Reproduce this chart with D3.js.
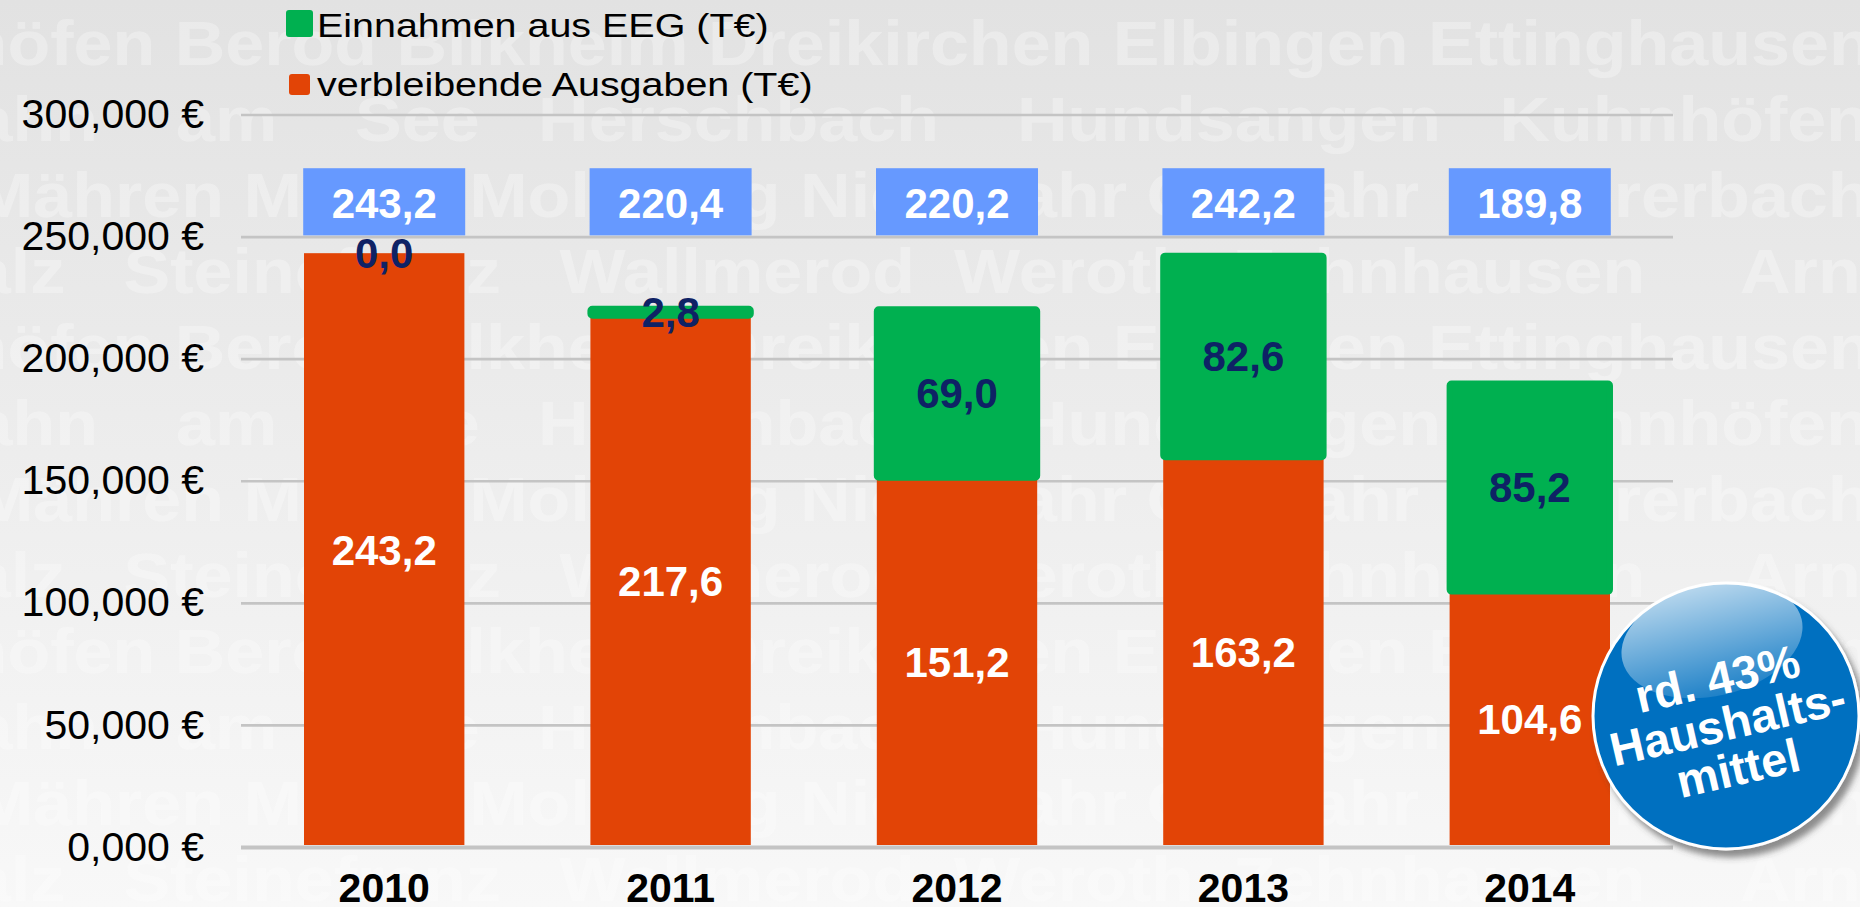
<!DOCTYPE html>
<html>
<head>
<meta charset="utf-8">
<script src="https://cdn.jsdelivr.net/npm/d3@7"></script>
<style>
  body { margin: 0; background: #fff; }
  svg { display: block; font-family: "Liberation Sans", Arial, sans-serif; }
</style>
</head>
<body>
<div id="chart"></div>
<script>
// values in T€
const years = ["2010", "2011", "2012", "2013", "2014"];
const gesamt = [243.2, 220.4, 220.2, 242.2, 189.8];          // blue boxes on top
const einnahmenEEG = [0.0, 2.8, 69.0, 82.6, 85.2];           // green part
const ausgabenLabel = [243.2, 217.6, 151.2, 163.2, 104.6];   // numbers printed in the red part
const yTicks = [0, 50, 100, 150, 200, 250, 300];
const legendLabels = ["Einnahmen aus EEG (T€)", "verbleibende Ausgaben (T€)"];
const badgeLines = ["rd. 43%", "Haushalts-", "mittel"];

// faint village names in the background
const watermarkRows = [
  "Arnshöfen Berod Bilkheim Dreikirchen Elbingen Ettinghausen",
  "Hahn    am    See   Herschbach    Hundsangen   Kuhnhöfen",
  "Mähren Meudt Molsberg Niederahr Oberahr   Obererbach",
  "Salz   Steinefrenz   Wallmerod  Weroth  Zehnhausen     Arn-"
];
const watermarkShift = [-195, -77, -25, -75];

const width = 1860, height = 907;
const x0 = 241, x1 = 1673;

const de = d3.formatLocale({decimal: ",", thousands: ".", grouping: [3], currency: ["", " €"]});
const f1 = de.format(".1f");
const f3 = de.format(".3f");

const colGreen = "#00b050", colRed = "#e24406", colBox = "#6699ff", colNavy = "#0e2265";

const svg = d3.select("#chart").append("svg")
  .attr("width", width)
  .attr("height", height);

const defs = svg.append("defs");
const bg = defs.append("linearGradient").attr("id", "bg").attr("x1", 0).attr("y1", 0).attr("x2", 0).attr("y2", 1);
bg.append("stop").attr("offset", "0%").attr("stop-color", "#e2e2e2");
bg.append("stop").attr("offset", "100%").attr("stop-color", "#f8f8f8");

const gloss = defs.append("linearGradient").attr("id", "gloss").attr("x1", 0).attr("y1", 0).attr("x2", 0).attr("y2", 1);
gloss.append("stop").attr("offset", "0%").attr("stop-color", "#fff").attr("stop-opacity", 0.72);
gloss.append("stop").attr("offset", "100%").attr("stop-color", "#fff").attr("stop-opacity", 0.12);

const shadow = defs.append("filter").attr("id", "shadow").attr("x", "-20%").attr("y", "-20%").attr("width", "150%").attr("height", "150%");
shadow.append("feDropShadow").attr("dx", 5).attr("dy", 7).attr("stdDeviation", 3)
  .attr("flood-color", "#444").attr("flood-opacity", 0.6);

svg.append("rect").attr("width", width).attr("height", height).attr("fill", "url(#bg)");

// watermark
const wm = svg.append("g")
  .attr("transform", "scale(1.13,1)")
  .attr("fill", "#fff")
  .attr("opacity", 0.3)
  .attr("font-weight", "bold")
  .attr("font-size", 62);
d3.range(12).forEach(i => {
  wm.append("text")
    .attr("xml:space", "preserve")
    .style("white-space", "pre")
    .attr("x", watermarkShift[i % 4] / 1.13)
    .attr("y", 65 + 76 * i)
    .text(watermarkRows[i % 4]);
});

const x = d3.scaleBand().domain(years).range([x0, x1]).paddingInner(0.44).paddingOuter(0.22);
const y = d3.scaleLinear().domain([0, 300]).range([847, 114.5]);

// y axis with grid
const yAxis = svg.append("g")
  .attr("transform", `translate(${x0},0)`)
  .call(d3.axisLeft(y).tickValues(yTicks).tickSize(-(x1 - x0)).tickPadding(37)
    .tickFormat(d => f3(d) + " €"));
yAxis.select(".domain").remove();
yAxis.attr("font-family", null).attr("font-size", 41);
yAxis.selectAll(".tick line").attr("stroke", "#c4c4c4").attr("stroke-width", d => d === 0 ? 4 : 2.7);
yAxis.selectAll(".tick text").attr("fill", "#000");

// x axis
const xAxis = svg.append("g")
  .attr("transform", `translate(0,${y(0)})`)
  .call(d3.axisBottom(x).tickSize(0).tickPadding(26));
xAxis.select(".domain").remove();
xAxis.attr("font-family", null).attr("font-size", 41).attr("font-weight", "bold");
xAxis.selectAll("text").attr("fill", "#000");

const rows = years.map((yr, i) => ({
  year: yr,
  total: gesamt[i],
  green: einnahmenEEG[i],
  red: gesamt[i] - einnahmenEEG[i],
  redLabel: ausgabenLabel[i]
}));

const bw = x.bandwidth();

// red bars
svg.append("g").selectAll("rect")
  .data(rows).enter().append("rect")
  .attr("x", d => x(d.year))
  .attr("width", bw)
  .attr("y", d => y(d.red))
  .attr("height", d => y(0) - 2 - y(d.red))
  .attr("fill", colRed);

// green bars (outlined in the same green, so they look a bit bigger)
svg.append("g").selectAll("rect")
  .data(rows).enter().append("rect")
  .attr("x", d => x(d.year))
  .attr("width", bw)
  .attr("y", d => y(d.total))
  .attr("height", d => y(d.red) - y(d.total))
  .attr("rx", 2)
  .attr("fill", colGreen)
  .attr("stroke", colGreen)
  .attr("stroke-width", 6)
  .attr("stroke-linejoin", "round");

// labels in red part
svg.append("g").selectAll("text")
  .data(rows).enter().append("text")
  .attr("x", d => x(d.year) + bw / 2)
  .attr("y", d => (y(0) + y(d.red)) / 2)
  .attr("dy", "0.35em")
  .attr("text-anchor", "middle")
  .attr("font-size", 42)
  .attr("font-weight", "bold")
  .attr("fill", "#fff")
  .text(d => f1(d.redLabel));

// labels in green part
svg.append("g").selectAll("text")
  .data(rows).enter().append("text")
  .attr("x", d => x(d.year) + bw / 2)
  .attr("y", d => (y(d.total) + y(d.red)) / 2)
  .attr("dy", "0.35em")
  .attr("text-anchor", "middle")
  .attr("font-size", 42)
  .attr("font-weight", "bold")
  .attr("fill", colNavy)
  .text(d => f1(d.green));

// total boxes
const boxTop = y(278), boxBottom = y(250.5);
const boxes = svg.append("g").selectAll("g")
  .data(rows).enter().append("g")
  .attr("transform", d => `translate(${x(d.year) + bw / 2},0)`);
boxes.append("rect")
  .attr("x", -81)
  .attr("width", 162)
  .attr("y", boxTop)
  .attr("height", boxBottom - boxTop)
  .attr("fill", colBox);
boxes.append("text")
  .attr("y", (boxTop + boxBottom) / 2)
  .attr("dy", "0.38em")
  .attr("text-anchor", "middle")
  .attr("font-size", 42)
  .attr("font-weight", "bold")
  .attr("fill", "#fff")
  .text(d => f1(d.total));

// legend
const legend = svg.append("g");
const legendItems = [
  {label: legendLabels[0], color: colGreen, sx: 286, sy: 10, s: 27, ty: 37},
  {label: legendLabels[1], color: colRed, sx: 289, sy: 74, s: 21, ty: 96}
];
legendItems.forEach(it => {
  legend.append("rect")
    .attr("x", it.sx).attr("y", it.sy)
    .attr("width", it.s).attr("height", it.s)
    .attr("rx", 3)
    .attr("fill", it.color);
  const t = legend.append("text")
    .attr("x", 317).attr("y", it.ty)
    .attr("font-size", 34)
    .attr("fill", "#000")
    .text(it.label);
  const len = t.node().getComputedTextLength();
  t.attr("textLength", len * 1.16).attr("lengthAdjust", "spacingAndGlyphs");
});

// badge
const badge = svg.append("g").attr("transform", "translate(1726,716)");
badge.append("circle")
  .attr("r", 133)
  .attr("fill", "#0070c0")
  .attr("stroke", "#fff")
  .attr("stroke-width", 3)
  .attr("filter", "url(#shadow)");
badge.append("ellipse")
  .attr("transform", "translate(-14,-76) rotate(-13)")
  .attr("rx", 92)
  .attr("ry", 56)
  .attr("fill", "url(#gloss)");
const bt = badge.append("g").attr("transform", "rotate(-13)");
bt.selectAll("text")
  .data(badgeLines).enter().append("text")
  .attr("x", 0)
  .attr("y", (d, i) => -22 + i * 46)
  .attr("text-anchor", "middle")
  .attr("font-size", 47)
  .attr("font-weight", "bold")
  .attr("fill", "#fff")
  .text(d => d);
</script>
</body>
</html>
